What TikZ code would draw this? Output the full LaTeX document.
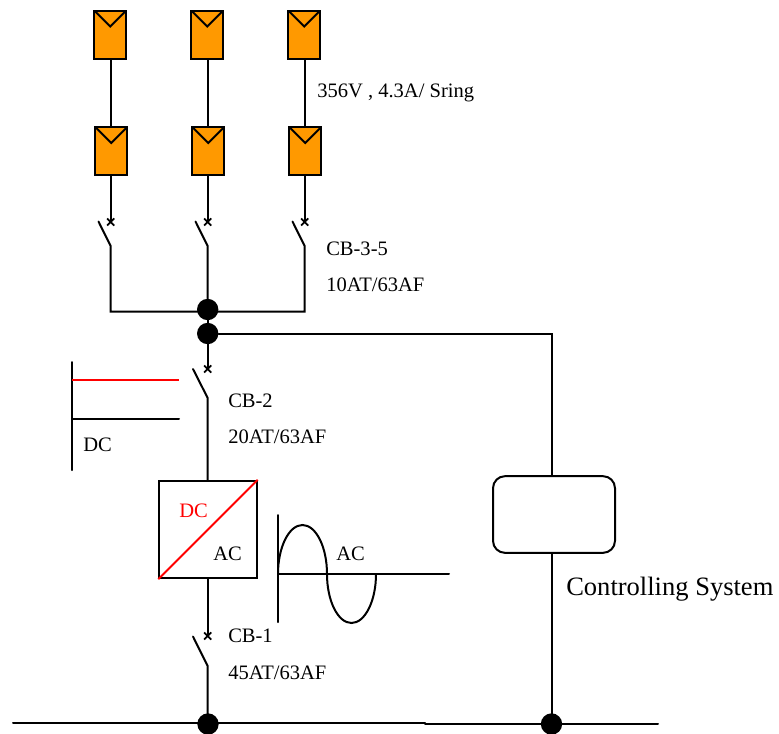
\documentclass[tikz,border=0pt]{standalone}
\usepackage{fontspec}
\setmainfont{Liberation Serif}
\usetikzlibrary{shapes.misc}
\definecolor{panelcol}{HTML}{FF9900}
\tikzset{
  wire/.style = {line width = 1.5pt, line cap = round},
  redwire/.style = {line width = 1.5pt, draw = red},
  panel/.style = {draw, fill = panelcol, line width = 1.5pt, minimum width = 24pt, minimum height = 36pt, inner sep = 0pt,
    path picture = {\draw[line width = 1.5pt] (path picture bounding box.north west) -- ([yshift = -12pt]path picture bounding box.north) -- (path picture bounding box.north east);}},
  tripmark/.style = {cross out, draw, line width = 1.3pt, minimum size = 4pt, inner sep = 0pt},
  joint/.style = {circle, fill = black, minimum size = 16pt, inner sep = 0pt},
  label/.style = {font = \fontsize{15.4}{18}\selectfont, inner sep = 0pt, anchor = west}
}
\begin{document}
\begin{tikzpicture}[x = 0.75pt, y = -0.75pt]
\useasboundingbox (0, 0) rectangle (779, 733);
\node[panel] (pvaa) at (110.2, 34.5) {};
\node[panel] (pvab) at (207.2, 34.5) {};
\node[panel] (pvac) at (304.2, 34.5) {};
\node[panel] (pvba) at (111.2, 151) {};
\node[panel] (pvbb) at (208.2, 151) {};
\node[panel] (pvbc) at (305.2, 151) {};
\node[tripmark] (tripa) at (110.7, 222) {};
\node[tripmark] (tripb) at (207.7, 222) {};
\node[tripmark] (tripc) at (304.7, 222) {};
\coordinate (bladea) at (98.5, 221.5);
\coordinate (bladeb) at (195.5, 221.5);
\coordinate (bladec) at (292.5, 221.5);
\coordinate (hingea) at (110.7, 246);
\coordinate (hingeb) at (207.7, 246);
\coordinate (hingec) at (304.7, 246);
\coordinate (cornera) at (110.7, 311.5);
\coordinate (cornerc) at (304.7, 311.5);
\node[joint] (jointa) at (207.7, 309.5) {};
\node[joint] (jointb) at (207.7, 333.5) {};
\draw[wire] (tripa |- pvaa.south) -- (tripa |- pvba.north);
\draw[wire] (tripb |- pvab.south) -- (tripb |- pvbb.north);
\draw[wire] (tripc |- pvac.south) -- (tripc |- pvbc.north);
\draw[wire] (tripa |- pvba.south) -- (tripa.center);
\draw[wire] (tripb |- pvbb.south) -- (tripb.center);
\draw[wire] (tripc |- pvbc.south) -- (tripc.center);
\draw[wire] (bladea) -- (hingea) -- (cornera) -- (cornerc) -- (hingec) -- (bladec);
\draw[wire] (bladeb) -- (hingeb) -- (jointa);
\draw[wire] (jointa) -- (jointb);
\node[tripmark] (tripd) at (207.7, 369) {};
\coordinate (blader) at (193, 369);
\coordinate (hinged) at (207.7, 398);
\node[draw, line width = 1.5pt, minimum size = 73pt, inner sep = 0pt] (inverter) at (208, 529.5) {};
\draw[wire] (jointb) -- (tripd.center);
\draw[wire] (blader) -- (hinged) -- (inverter.north -| hinged);
\draw[redwire] (inverter.south west) -- (inverter.north east);
\node[tripmark] (tripe) at (207.7, 636) {};
\coordinate (bladee) at (193, 636.5);
\coordinate (hingee) at (207.7, 666);
\node[joint] (jointc) at (208, 724) {};
\draw[wire] (inverter.south -| tripe) -- (tripe.center);
\draw[wire] (bladee) -- (hingee) -- (hingee |- jointc);
\coordinate (dcbartop) at (72, 362);
\coordinate (dcbarbot) at (72, 470);
\coordinate (dcredstart) at (72, 380);
\coordinate (dcredend) at (179, 380);
\coordinate (dcblackstart) at (72, 418.5);
\coordinate (dcblackend) at (179, 418.5);
\draw[wire] (dcbartop) -- (dcbarbot);
\draw[redwire] (dcredstart) -- (dcredend);
\draw[wire] (dcblackstart) -- (dcblackend);
\coordinate (acbartop) at (278, 515);
\coordinate (acbarbot) at (278, 622);
\coordinate (acaxis) at (278, 574);
\coordinate (acaxisend) at (449, 574);
\draw[wire] (acbartop) -- (acbarbot);
\draw[wire] (acaxis) -- (acaxisend);
\draw[wire] (acaxis) .. controls (278, 547) and (289, 525) .. (302.5, 525) .. controls (316, 525) and (327, 547) .. (327, 574) .. controls (327, 601) and (338, 623) .. (351.5, 623) .. controls (365, 623) and (376, 601) .. (376, 574);
\node[draw, fill = white, rounded corners = 9pt, line width = 1.5pt, minimum width = 91.5pt, minimum height = 57.5pt, inner sep = 0pt] (control) at (554, 514.5) {};
\coordinate (feedcorner) at (552, 333.5);
\node[joint] (jointd) at (551.5, 724) {};
\draw[wire] (jointb) -- (feedcorner) -- (feedcorner |- control.north);
\draw[wire] (feedcorner |- control.south) -- (feedcorner |- jointd);
\coordinate (busleft) at (13, 723);
\coordinate (busmid) at (425, 723);
\coordinate (busmidb) at (425, 724);
\coordinate (busright) at (658, 724);
\draw[wire] (busleft) -- (busmid);
\draw[wire] (busmidb) -- (busright);
\node[label] (stringlabel) at (317, 93) {356V , 4.3A/ Sring};
\node[label] (cbcname) at (326, 248.5) {CB-3-5};
\node[label] (cbcrate) at (326, 284.5) {10AT/63AF};
\node[label] (cbbname) at (228, 400.5) {CB-2};
\node[label] (cbbrate) at (228, 436.5) {20AT/63AF};
\node[label] (dcbus) at (83, 445) {DC};
\node[label, text = red] (invdc) at (179, 511) {DC};
\node[label] (invac) at (213, 554) {AC};
\node[label] (acbus) at (336, 554) {AC};
\node[label] (cbaname) at (228, 636) {CB-1};
\node[label] (cbarate) at (228, 672.5) {45AT/63AF};
\node[label, font = \fontsize{19.9}{24}\selectfont] (controllabel) at (566, 589) {Controlling System};
\end{tikzpicture}
\end{document}
